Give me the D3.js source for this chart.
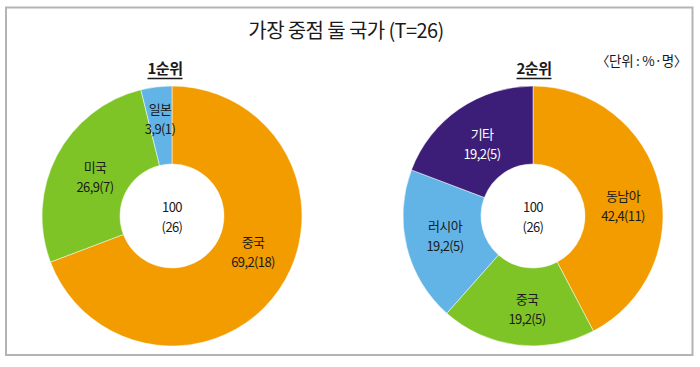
<!DOCTYPE html>
<html><head><meta charset="utf-8">
<script src="https://cdn.jsdelivr.net/npm/d3@7"></script>
<style>
body{margin:0;background:#fff;}
text{font-family:"Noto Sans CJK KR","Noto Sans",sans-serif;}
</style></head>
<body><svg id="c" width="700" height="367"></svg>
<script>
const title = "가장 중점 둘 국가 (T=26)";
const unitText = "〈단위 : %·명〉";
const centerTop = "100";
const centerBottom = "(26)";

const rank1Title = "1순위";
const rank1Names = ["중국", "미국", "일본"];
const rank1Counts = [18, 7, 1];
const rank1Pcts = ["69.2", "26.9", "3.9"];

const rank2Title = "2순위";
const rank2Names = ["동남아", "중국", "러시아", "기타"];
const rank2Counts = [11, 5, 5, 5];
const rank2Pcts = ["42.4", "19.2", "19.2", "19.2"];

const colors1 = ["#f29c00", "#7ec427", "#63b4e6"];
const colors2 = ["#f29c00", "#7ec427", "#63b4e6", "#3c1e79"];

const svg = d3.select("#c");
svg.append("rect").attr("x",6).attr("y",7.5).attr("width",686.5).attr("height",347.5)
  .attr("fill","none").attr("stroke","#b4b4b4").attr("stroke-width",2);

svg.append("text").attr("x",346).attr("y",38).attr("text-anchor","middle")
  .attr("font-size",20).attr("fill","#1a1a1a").attr("letter-spacing","-0.6").text(title);
svg.append("text").attr("x",687).attr("y",66).attr("text-anchor","end")
  .attr("font-size",13.5).attr("fill","#1a1a1a").attr("letter-spacing","-0.3").text(unitText);

function twoLine(g, x, y, a, b, fill) {
  [a,b].forEach((s,k)=>{
    g.append("text").attr("x",x).attr("y",y+k*19.5).attr("text-anchor","middle")
      .attr("font-size",13).attr("fill",fill).attr("letter-spacing","-0.6").text(s);
  });
}

function donut(cx, cy, names, counts, pcts, colors, head, headX, labelPos) {
  const g = svg.append("g").attr("transform",`translate(${cx},${cy})`);
  const pie = d3.pie().sort(null).value(d=>d)(counts);
  const arc = d3.arc().innerRadius(52).outerRadius(130);
  g.selectAll("path").data(pie).join("path").attr("d",arc)
    .attr("fill",(d,i)=>colors[i]).attr("stroke","#fff").attr("stroke-width",0.5);
  pie.forEach((d,i)=>{
    const [lx,ly] = labelPos[i];
    const fill = colors[i]==="#3c1e79" ? "#fff" : "#1a1a1a";
    twoLine(g, lx, ly, names[i], `${pcts[i].replace(".",",")}(${counts[i]})`, fill);
  });
  twoLine(g, 0, -4, centerTop, centerBottom, "#1a1a1a");
  const h = svg.append("text").attr("x",headX).attr("y",74).attr("text-anchor","middle")
    .attr("font-size",15).attr("font-weight","bold").attr("fill","#1a1a1a")
    .attr("letter-spacing","-0.5").text(head);
  const bb = h.node().getBBox();
  svg.append("line").attr("x1",bb.x).attr("x2",bb.x+bb.width).attr("y1",78.5).attr("y2",78.5)
    .attr("stroke","#1a1a1a").attr("stroke-width",1.3);
}

donut(172, 216, rank1Names, rank1Counts, rank1Pcts, colors1, rank1Title, 165,
  [[81,31],[-77,-44],[-12,-102]]);
donut(533, 216, rank2Names, rank2Counts, rank2Pcts, colors2, rank2Title, 534,
  [[90,-15],[-6,88],[-88,15],[-51,-77]]);
</script></body></html>
